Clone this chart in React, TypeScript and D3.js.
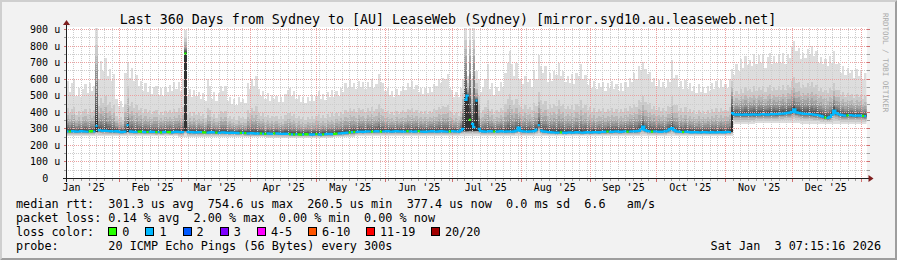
import React from 'react';
import * as d3 from 'd3';

// ---------------- data ----------------
const TITLE = 'Last 360 Days from Sydney to [AU] LeaseWeb (Sydney) [mirror.syd10.au.leaseweb.net]';
const END_TIME = Date.UTC(2026, 0, 3, 7, 15, 16);
const SPAN_DAYS = 360;
const DAY_MS = 86400000;

const Y_TICKS = [0, 100, 200, 300, 400, 500, 600, 700, 800, 900];
const Y_TICK_LABELS = ['0', '100 u', '200 u', '300 u', '400 u', '500 u', '600 u', '700 u', '800 u', '900 u'];

// daily median rtt (us)
const MEDIAN_RTT = [
  285, 284, 286, 285, 283, 284, 286, 285, 284, 283, 285, 286, 284,
  318,
  292, 290, 288, 289, 287, 286, 285, 284, 286, 283, 280, 282, 284,
  322,
  285, 283, 281, 282, 284, 283, 282, 280, 281, 283, 282, 281, 280,
  281, 279, 280, 282, 281, 280, 279, 281, 283, 282, 280, 281,
  755,
  282, 280, 281, 279, 278, 280, 281, 279, 278, 277, 279, 280, 278, 277, 276, 278, 279, 277, 276, 275, 277, 276, 275, 274, 276, 275, 274,
  273, 272, 274, 273, 271, 272, 273, 271, 270, 272, 271, 270, 272, 273, 271, 270, 269, 271, 270,
  268, 267, 266, 268, 267, 265, 266, 268, 267, 266, 265, 267, 268, 266, 265, 267, 268, 269, 270, 268, 269, 271, 272, 273, 274, 275,
  277, 279, 280, 282, 281, 283, 284, 282, 283, 285, 284, 283,
  284, 286, 285, 283, 284, 285, 286, 284, 283, 285, 286, 284, 285,
  283, 284, 286, 285, 284, 283, 285, 286, 284, 283, 282, 284, 285,
  286, 284, 283, 285, 286, 285, 284, 283, 284, 286, 285, 284, 283, 290,
  300, 475, 500, 354, 330, 310, 470, 300,
  286, 285, 283, 284, 286, 285, 284, 283, 285, 286, 284, 283, 285, 284, 283,
  285, 290, 308, 288, 285, 284, 283, 285, 284, 286, 295, 322, 290, 285, 283,
  281, 280, 279, 278, 277, 278, 279, 277, 276, 278, 279, 277, 278, 280, 279, 278, 277, 279, 280, 278, 279, 281, 280, 279, 281,
  282, 283, 284, 283, 282, 284, 285, 283, 282, 284, 285, 283, 284, 285, 284, 286, 288, 296, 314, 292, 286, 284, 283, 285, 284,
  283, 282, 284, 285, 290, 298, 305, 292, 285, 283, 282, 281, 283, 282, 280, 279, 281, 280, 279, 278, 280, 281, 279, 278, 280, 279, 278, 280, 281, 279, 280, 282, 281,
  395, 388, 385, 387, 386, 385, 387, 386,
  386, 388, 387, 385, 386, 388, 389, 387, 386, 388, 390, 389, 388, 390, 392, 391, 393, 396, 398,
  402, 418,
  400, 396, 393, 392, 390, 391, 389, 388, 386, 384, 382, 378, 374,
  368, 366, 372, 385,
  410,
  395, 388, 384, 382, 380, 381, 383, 382, 380, 379, 381, 380, 378, 377,
];

// daily max rtt (us) - top of the smoke
const MAX_RTT = [
  590, 520, 575, 600, 500, 545, 490, 540, 570, 515,
  575, 530, 560, 930, 600, 710, 650, 730, 620, 660,
  590, 630, 480, 440, 470, 430, 640, 700, 610, 665,
  590, 625, 560, 590, 530, 575, 520, 560, 510, 550,
  560, 505, 545, 500, 550, 520, 565, 530, 580, 540,
  585, 530, 600, 900, 500, 540, 490, 535, 500, 520,
  480, 515, 470, 600, 560, 480, 520, 470, 515, 560,
  530, 560, 470, 495, 450, 480, 445, 490, 460, 480,
  455, 575, 540, 600, 560, 620, 540, 500, 530, 480,
  515, 470, 505, 480, 500, 465, 495, 460, 510, 535,
  545, 500, 530, 480, 505, 465, 490, 455, 495, 470,
  505, 470, 500, 530, 480, 510, 475, 525, 490, 535,
  495, 530, 500, 545, 520, 575, 545, 595, 550, 575,
  540, 590, 555, 580, 540, 585, 550, 600, 545, 570,
  630, 585, 575, 530, 545, 505, 530, 495, 540, 505,
  530, 560, 535, 575, 555, 590, 540, 565, 520, 545,
  510, 545, 515, 550, 525, 570, 560, 600, 575, 610,
  600, 630, 545, 535, 495, 525, 490, 545, 600, 950,
  620, 950, 600, 950, 650, 600, 520, 555, 600, 690,
  540, 575, 505, 555, 530, 580, 555, 640, 700, 770,
  690, 620, 700, 600, 600, 570, 620, 580, 600, 555,
  650, 600, 745, 680, 640, 680, 580, 640, 590, 650,
  625, 700, 620, 650, 580, 620, 575, 630, 570, 640,
  620, 690, 600, 625, 565, 600, 545, 590, 540, 575,
  550, 585, 530, 575, 545, 590, 540, 570, 530, 575,
  530, 580, 550, 610, 585, 640, 600, 680, 650, 705,
  660, 630, 645, 580, 610, 560, 595, 550, 585, 545,
  600, 580, 715, 610, 625, 550, 590, 540, 595, 540,
  575, 530, 560, 515, 570, 525, 550, 515, 560, 530,
  575, 540, 590, 545, 595, 550, 570, 545, 600,
  660, 625, 690, 650, 720, 670, 740, 685, 715, 680, 750,
  690, 745, 700, 755, 670, 735, 760, 690, 740, 700, 745,
  700, 760, 690, 755, 730, 800, 830, 770, 790, 720, 760,
  730, 780, 750, 800, 740, 770, 700, 735, 690, 720, 680,
  740, 700, 770, 690, 700, 640, 680, 625, 670, 635, 655, 610, 660, 620, 650, 600, 640,
];

// min rtt (10-day steps, us)
const MIN_RTT_10D = [
  258, 257, 256, 255, 254, 252, 250, 249, 248, 247,
  245, 244, 248, 256, 258, 258, 257, 258, 258, 259,
  258, 258, 256, 255, 254, 256, 258, 258, 257, 258,
  330, 335, 338, 332, 330, 328,
];

// days where the pings split high/low (dark bars)
const BURST_DAYS = [13, 27, 53, 178, 179, 180, 181, 182, 183, 184, 185, 299];
const BURST_BASE = [283, 283, 288, 288, 286, 287, 290, 288, 287, 289, 288, 283];
const BURST_UPPER = [650, 380, 790, 420, 700, 430, 700, 420, 700, 480, 380, 500];

// days with no packet loss at all (others: loss bucket "1")
const ZERO_LOSS_DAYS = [1, 10, 11, 32, 33, 36, 40, 42, 45, 46, 53, 61, 62, 67, 78, 80, 87, 89, 93, 100, 102, 104, 105, 107, 108, 112, 115, 120, 121, 127, 129, 137, 141, 153, 158, 172, 181, 192, 222, 243, 252, 263, 277, 341, 351, 358];

const LOSS_LABELS = ['0', '1', '2', '3', '4-5', '6-10', '11-19', '20/20'];
const LOSS_COLORS = ['#26ff00', '#00b8ff', '#0059ff', '#7e00ff', '#ff00ff', '#ff5500', '#ff0000', '#a10000'];

const LEGEND_MEDIAN = 'median rtt:  301.3 us avg  754.6 us max  260.5 us min  377.4 us now  0.0 ms sd  6.6   am/s';
const LEGEND_LOSS = 'packet loss: 0.14 % avg  2.00 % max  0.00 % min  0.00 % now';
const LEGEND_LOSSCOLOR = 'loss color:';
const LEGEND_PROBE = 'probe:       20 ICMP Echo Pings (56 Bytes) every 300s';
const TIMESTAMP = 'Sat Jan  3 07:15:16 2026';
const WATERMARK = 'RRDTOOL / TOBI OETIKER';

// ---------------- rendering model (rank curves for smoke) ----------------
const K_LO = [0, 0.25, 0.45, 0.6, 0.7, 0.78, 0.85, 0.9, 0.95, 0.98];
const K_BURST = [0, 0.4, 0.6, 0.75, 0.85, 0.92, 0.96, 0.98, 0.99, 1];
const F_UP = [0.012, 0.03, 0.055, 0.085, 0.12, 0.17, 0.24, 0.33, 0.47, 1];
const G_UP = [0.08, 0.2, 0.38, 0.6, 0.8, 1.0];
const H_UP = [0.15, 0.33, 0.55, 1.0];

const MONO = '"DejaVu Sans Mono", monospace';

export default function App() {
  const W = 897, H = 260;
  const X0 = 66.5, X1 = 866.5;
  const startMs = END_TIME - SPAN_DAYS * DAY_MS;
  const x = d3.scaleUtc().domain([new Date(startMs), new Date(END_TIME)]).range([X0, X1]);
  const y = d3.scaleLinear().domain([0, 900]).range([178.5, 29.5]);
  const xd = (d: number) => x(new Date(startMs + d * DAY_MS));

  const burstIdx = new Map<number, number>(BURST_DAYS.map((d, i) => [d, i]));
  const zeroLoss = new Set(ZERO_LOSS_DAYS);

  const ranks: number[][] = d3.range(SPAN_DAYS).map((d) => {
    const med = MEDIAN_RTT[d];
    const mx = Math.max(MAX_RTT[d], med);
    const bi = burstIdx.get(d);
    const lo = Math.min(MIN_RTT_10D[Math.floor(d / 10)], med - 15);
    const r: number[] = [];
    if (bi === undefined) {
      for (let i = 0; i < 10; i++) r.push(lo + (med - lo) * K_LO[i]);
      for (let i = 0; i < 10; i++) r.push(med + (mx - med) * F_UP[i]);
    } else {
      const base = BURST_BASE[bi];
      const up = Math.min(Math.max(BURST_UPPER[bi], med + 20), mx);
      for (let i = 0; i < 10; i++) r.push(lo + (base - lo) * K_BURST[i]);
      for (let i = 0; i < 6; i++) r.push(med + (up - med) * G_UP[i]);
      for (let i = 0; i < 4; i++) r.push(up + (mx - up) * H_UP[i]);
    }
    return r;
  });
  const series = [...ranks, ranks[ranks.length - 1]];

  const layers = d3.range(10).map((i) => {
    const g = Math.floor((190 / 10) * (10 - (i + 1))) + 50;
    const col = d3.rgb(g, g, g).formatHex();
    const area = d3
      .area<number[]>()
      .x((_, j) => xd(j))
      .y0((r) => y(r[i]))
      .y1((r) => y(r[19 - i]))
      .curve(d3.curveStepAfter);
    return { col, d: area(series) || '' };
  });

  // median line, split by loss color
  const colorOf = (d: number) => LOSS_COLORS[zeroLoss.has(d) ? 0 : 1];
  const medPaths: { col: string; d: string }[] = [];
  let cur = '';
  let curCol = '';
  for (let d = 0; d < SPAN_DAYS; d++) {
    const c = colorOf(d);
    const yy = y(MEDIAN_RTT[d]);
    const cont = d > 0 && c === curCol && Math.abs(MEDIAN_RTT[d] - MEDIAN_RTT[d - 1]) <= 25;
    if (!cont) {
      if (cur) medPaths.push({ col: curCol, d: cur });
      cur = `M${xd(d)},${yy}`;
      curCol = c;
    } else {
      cur += `V${yy}`;
    }
    cur += `H${xd(d + 1)}`;
  }
  if (cur) medPaths.push({ col: curCol, d: cur });

  // grid
  const hGrid = d3.range(50, 901, 50).map((v) => ({ y: Math.floor(y(v)) + 0.5, major: v % 100 === 0 }));
  const months = d3.utcMonth.range(new Date(startMs), new Date(END_TIME));
  const majorX = months.map((m) => Math.floor(x(m)) + 0.5);
  const MINOR_STEP_H = 82.8;
  const minorAnchor = Date.UTC(2025, 0, 11, 16, 0);
  const minorX: number[] = [];
  for (let t = minorAnchor; t < END_TIME; t += MINOR_STEP_H * 3600000) {
    const px = Math.floor(x(new Date(t))) + 0.5;
    if (px > X0 + 1 && majorX.every((mx) => Math.abs(mx - px) > 2)) minorX.push(px);
  }
  const monthLabels = d3.utcMonth
    .range(new Date(startMs - 40 * DAY_MS), new Date(END_TIME))
    .map((m) => ({ m, cx: x(new Date(m.getTime() + 15 * DAY_MS)) }))
    .filter((o) => o.cx > X0 && o.cx < X1);
  const fmtMonth = d3.utcFormat("%b '%y");

  const GRID_MINOR = '#cdcdcd';
  const GRID_MAJOR = '#eba0a0';
  const ARROW = '#7f1f1f';
  const AXIS = '#1f1f1f';

  // legend boxes
  const CW = 7.1;
  const LX = 16;
  let bx = LX + 13 * CW;
  const boxes = LOSS_LABELS.map((lab, i) => {
    const o = { x: bx, lab, col: LOSS_COLORS[i] };
    bx += 30.2 + 6.95 * lab.length;
    return o;
  });

  const pre = { whiteSpace: 'pre' as const };

  return (
    <svg width={W} height={H} style={{ display: 'block', position: 'absolute', left: 0, top: 0 }}>
      <defs>
        <clipPath id="plotclip">
          <rect x={X0} y={28} width={X1 - X0} height={178.5 - 28} />
        </clipPath>
      </defs>
      <rect x={0} y={0} width={W} height={H} fill="#f2f2f2" />
      <polygon points={`0,0 ${W},0 ${W - 2},2 2,2 2,${H - 2} 0,${H}`} fill="#cfcfcf" />
      <polygon points={`${W},0 ${W},${H} 0,${H} 2,${H - 2} ${W - 2},${H - 2} ${W - 2},2`} fill="#9e9e9e" />

      <text x={448} y={23.7} textAnchor="middle" fontFamily={MONO} fontSize={13.3} fill="#000">{TITLE}</text>

      <rect x={66} y={27} width={801} height={152} fill="#ffffff" />

      <g clipPath="url(#plotclip)" shapeRendering="crispEdges">
        {layers.map((l, i) => (
          <path key={i} d={l.d} fill={l.col} />
        ))}
      </g>

      {/* grid */}
      <g shapeRendering="crispEdges">
        {hGrid.map((g, i) => (
          <g key={'h' + i}>
            <line x1={X0 + 1} x2={X1 + 1} y1={g.y} y2={g.y} stroke={g.major ? GRID_MAJOR : GRID_MINOR} strokeDasharray="1,1" />
            <line x1={X0 - 3} x2={X0} y1={g.y} y2={g.y} stroke={g.major ? '#d07070' : '#a0a0a0'} />
            <line x1={X1} x2={X1 + 3} y1={g.y} y2={g.y} stroke={g.major ? '#d07070' : '#a0a0a0'} />
          </g>
        ))}
        {minorX.map((px, i) => (
          <g key={'mv' + i}>
            <line x1={px} x2={px} y1={28} y2={178} stroke={GRID_MINOR} strokeDasharray="1,1" />
            <line x1={px} x2={px} y1={178} y2={181} stroke="#a0a0a0" />
          </g>
        ))}
        {majorX.map((px, i) => (
          <g key={'Mv' + i}>
            <line x1={px} x2={px} y1={28} y2={178} stroke={GRID_MAJOR} strokeDasharray="1,1" />
            <line x1={px} x2={px} y1={178} y2={182} stroke="#d07070" />
          </g>
        ))}
      </g>

      <g clipPath="url(#plotclip)">
        {medPaths.map((p, i) => (
          <path key={i} d={p.d} fill="none" stroke={p.col} strokeWidth={2.2} />
        ))}
      </g>

      {/* axes */}
      <g shapeRendering="crispEdges">
        <line x1={X0 - 4} x2={X1 + 4} y1={178.5} y2={178.5} stroke={AXIS} />
        <line x1={X0} x2={X0} y1={182} y2={24} stroke={AXIS} />
      </g>
      <polygon points={`${X1 + 2},175 ${X1 + 2},182 ${X1 + 7},178.5`} fill={ARROW} />
      <polygon points={`${X0 - 3.5},25 ${X0 + 3.5},25 ${X0},20`} fill={ARROW} />

      {/* y labels */}
      {Y_TICKS.map((v, i) => {
        const lab = Y_TICK_LABELS[i];
        const lx = lab.includes(' ') ? 60.2 : 60.2 - 12;
        return (
          <text key={'yl' + i} x={lx} y={Math.floor(y(v)) + 0.5 + 3.4} textAnchor="end" fontFamily={MONO} fontSize={10} fill="#000">{lab}</text>
        );
      })}
      {/* x labels */}
      {monthLabels.map((o, i) => (
        <text key={'xl' + i} x={o.cx} y={190.7} textAnchor="middle" fontFamily={MONO} fontSize={10} fill="#000">{fmtMonth(o.m)}</text>
      ))}

      {/* legend */}
      <g fontFamily={MONO} fontSize={11.8} fill="#000">
        <text x={LX} y={207.6} xmlSpace="preserve" style={pre}>{LEGEND_MEDIAN}</text>
        <text x={LX} y={221.8} xmlSpace="preserve" style={pre}>{LEGEND_LOSS}</text>
        <text x={LX} y={235.8} xmlSpace="preserve" style={pre}>{LEGEND_LOSSCOLOR}</text>
        {boxes.map((b, i) => (
          <g key={'lb' + i}>
            <rect x={Math.round(b.x) + 0.5} y={227.5} width={8} height={8} fill={b.col} stroke="#000" strokeWidth={1} shapeRendering="crispEdges" />
            <text x={b.x + 14} y={235.8}>{b.lab}</text>
          </g>
        ))}
        <text x={LX} y={250} xmlSpace="preserve" style={pre}>{LEGEND_PROBE}</text>
        <text x={881} y={250} textAnchor="end" xmlSpace="preserve" style={pre}>{TIMESTAMP}</text>
      </g>

      <text x={883} y={13} transform="rotate(90 883 13)" fontFamily={MONO} fontSize={7.5} fill="#aaaaaa">{WATERMARK}</text>
    </svg>
  );
}
